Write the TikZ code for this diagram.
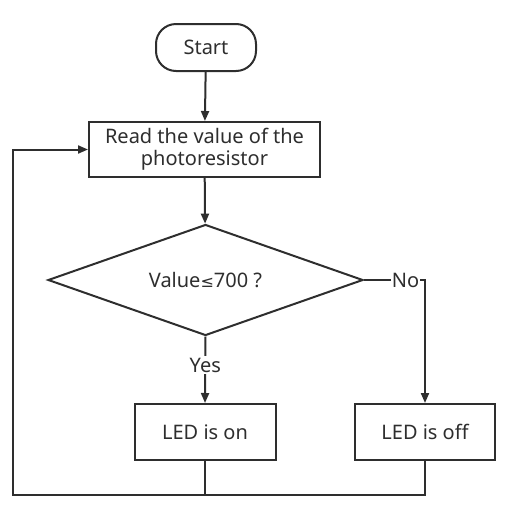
\documentclass[tikz,border=0pt]{standalone}
\usepackage{fontspec}
\setmainfont{Noto Sans}
\newfontfamily\symfont{DejaVu Sans}
\usetikzlibrary{arrows.meta,shapes.geometric}
\definecolor{ink}{HTML}{2E2E2E}

\begin{document}
\begin{tikzpicture}[x=1pt,y=-1pt,font=\fontsize{20}{22}\selectfont,
	every node/.style={text=ink},
	box/.style={rectangle, draw=ink, line width=2pt, fill=white, inner sep=0pt, align=center},
	arr/.style={draw=ink, line width=2pt, -{Triangle[length=10pt,width=8pt]}},
	ln/.style={draw=ink, line width=2pt}]
	\useasboundingbox (0,0) rectangle (530,520);
	\node (start) at (206,47.5) [box, rounded corners=20pt, minimum width=100pt, minimum height=47pt] {Start};
	\node (read) at (204.5,149.5) [box, minimum width=231pt, minimum height=55pt] {Read the value of the\\photoresistor};
	\node (check) at (205.5,280) [diamond, draw=ink, line width=2pt, inner sep=0pt, aspect=2.84, minimum width=315pt, minimum height=111pt] {Value{\symfont\fontsize{16}{18}\selectfont ≤}700 ?};
		\node (ledon) at (205,432) [box, minimum width=141pt, minimum height=56pt] {LED is on};
		\node (ledoff) at (425,432) [box, minimum width=140pt, minimum height=56pt] {LED is off};
	\coordinate (corner) at (13,495);
	\draw[arr] (start) to (read);
	\draw[arr] (read) to (check);
	\draw[arr] (check.south) to node [pos=0.43, fill=white, inner sep=2pt] {Yes} (ledon.north);
	\draw[arr] (check.east) -| node [pos=0.34, fill=white, inner sep=1pt] {No} (ledoff.north);
	\draw[ln] (ledon.south) -- (ledon.south |- corner);
	\draw[arr] (ledoff.south) |- (corner) |- (read.west);
\end{tikzpicture}
\end{document}
